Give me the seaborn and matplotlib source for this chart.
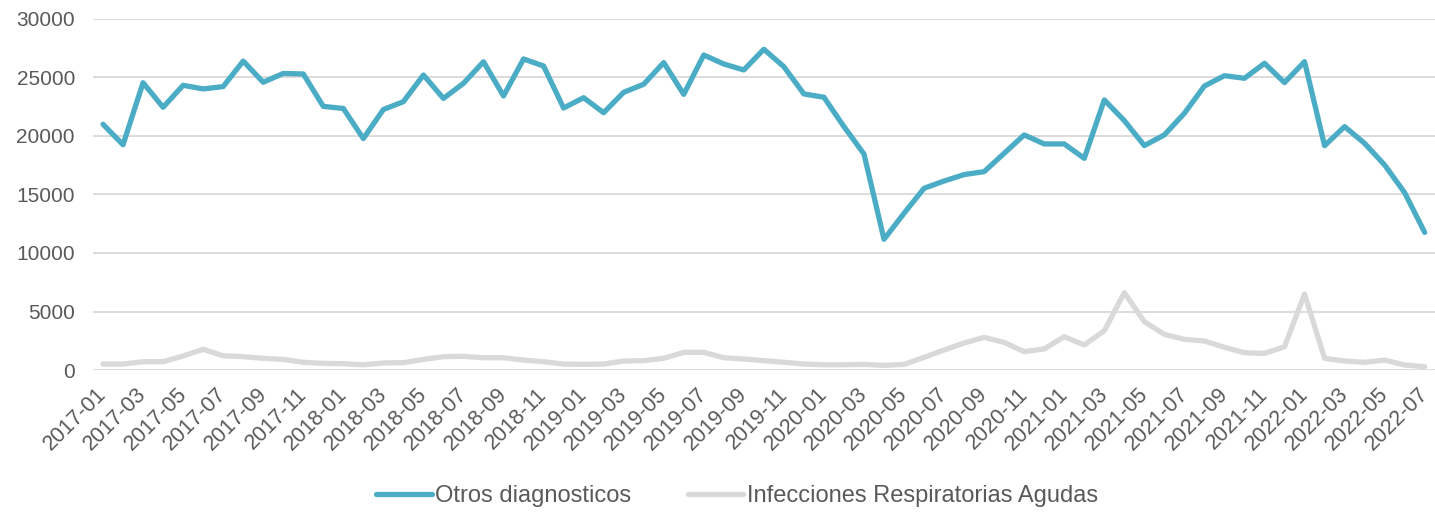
import matplotlib.pyplot as plt
import matplotlib.transforms as mtransforms
import numpy as np
import pandas as pd
import seaborn as sns

# meses 2017-01 .. 2022-07
meses = pd.period_range("2017-01", "2022-07", freq="M").strftime("%Y-%m").tolist()

otros = [21000, 19250, 24550, 22450, 24330, 24020, 24220, 26400, 24590, 25340, 25300, 22530,
         22350, 19780, 22260, 22930, 25210, 23210, 24500, 26340, 23420, 26580, 25980, 22390,
         23270, 21990, 23730, 24420, 26270, 23560, 26920, 26150, 25640, 27410, 25920, 23590,
         23310, 20800, 18460, 11170, 13390, 15530, 16150, 16700, 16950, 18520, 20090, 19320,
         19320, 18090, 23080, 21310, 19180, 20090, 21940, 24270, 25150, 24930, 26210, 24560,
         26350, 19170, 20800, 19370, 17520, 15150, 11760]

ira = [510, 510, 710, 710, 1200, 1770, 1220, 1140, 1000, 910, 660, 570,
       540, 450, 600, 630, 910, 1140, 1170, 1050, 1050, 850, 710, 510,
       480, 510, 770, 800, 1000, 1510, 1510, 1050, 940, 800, 660, 510,
       450, 450, 480, 400, 480, 1080, 1710, 2310, 2790, 2360, 1570, 1800,
       2850, 2140, 3360, 6610, 4130, 3050, 2620, 2480, 1940, 1480, 1420, 1990,
       6500, 1000, 770, 660, 850, 430, 290]

azul = "#4bacc6"
gris = "#d9d9d9"
texto = "#595959"

sns.set_theme(style="white")
plt.rcParams["font.family"] = ["Liberation Sans", "DejaVu Sans"]

df = pd.DataFrame({"idx": np.arange(len(meses)), "Otros diagnosticos": otros,
                   "Infecciones Respiratorias Agudas": ira})

fig = plt.figure(figsize=(14.35, 5.12), dpi=100)
ax = fig.add_axes([0.0648, 0.2773, 0.935, 0.6857])

sns.lineplot(data=df, x="idx", y="Otros diagnosticos", ax=ax, color=azul,
             linewidth=3.8, label="Otros diagnosticos", zorder=3)
sns.lineplot(data=df, x="idx", y="Infecciones Respiratorias Agudas", ax=ax, color=gris,
             linewidth=3.8, label="Infecciones Respiratorias Agudas", zorder=2)

ax.set_xlim(-0.5, len(meses) - 0.5)
ax.set_ylim(0, 30000)
ax.set_yticks(np.arange(0, 30001, 5000))
ax.yaxis.grid(True, color=gris, linewidth=1.3)
ax.set_axisbelow(True)
for s in ax.spines.values():
    s.set_visible(False)

pos = np.arange(0, len(meses), 2)
ax.set_xticks(pos)
ax.set_xticklabels([meses[i] for i in pos], rotation=45, ha="right",
                   rotation_mode="anchor", fontsize=15.5, color=texto)
ax.tick_params(axis="y", labelsize=15, labelcolor=texto, length=0, pad=13)
ax.tick_params(axis="x", length=0, pad=4)
ax.set_xlabel("")
ax.set_ylabel("")

# desplazar etiquetas del eje x un poco hacia abajo-izquierda
desp = mtransforms.ScaledTranslation(-0.07, -0.08, fig.dpi_scale_trans)
for lbl in ax.get_xticklabels():
    lbl.set_transform(lbl.get_transform() + desp)

ax.legend(loc="center", bbox_to_anchor=(0.48, -0.36), ncol=2, frameon=False,
          fontsize=17, handlelength=2.35, handletextpad=0.15, columnspacing=2.4,
          labelcolor=texto, borderaxespad=0)

fig.savefig("out.png", dpi=100)
